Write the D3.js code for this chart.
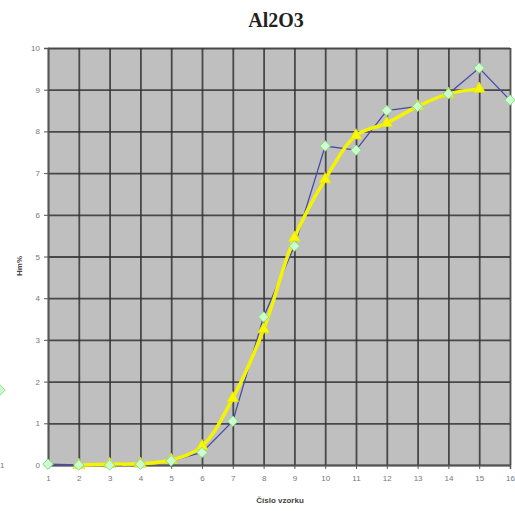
<!DOCTYPE html>
<html>
<head>
<meta charset="utf-8">
<script src="https://cdn.jsdelivr.net/npm/d3@7"></script>
<style>
  body { margin: 0; background: #fff; }
  svg { display: block; }
</style>
</head>
<body>
<svg id="drawing_region"></svg>
<script>
// sample numbers on the x axis
const samples = [1, 2, 3, 4, 5, 6, 7, 8, 9, 10, 11, 12, 13, 14, 15, 16];
// measured values (thin blue line, green diamonds)
const measured = [0.02, 0.0, 0.0, 0.02, 0.1, 0.3, 1.05, 3.55, 5.25, 7.65, 7.55, 8.5, 8.6, 8.9, 9.52, 8.75];
// fitted values (thick yellow line, triangles), samples 2..15
const fitSamples = [2, 3, 4, 5, 6, 7, 8, 9, 10, 11, 12, 13, 14, 15];
const fitted = [0.0, 0.02, 0.03, 0.12, 0.45, 1.6, 3.25, 5.45, 6.85, 7.9, 8.2, 8.6, 8.9, 9.02];
const yTicks = [0, 1, 2, 3, 4, 5, 6, 7, 8, 9, 10];

const config = {
    width: 515,
    height: 511,
    margin: { top: 48, right: 5, bottom: 46, left: 48 }
};

const svg = d3.select('#drawing_region')
    .attr('width', config.width)
    .attr('height', config.height);

const inner_width = config.width - config.margin.left - config.margin.right;
const inner_height = config.height - config.margin.top - config.margin.bottom;

const chart = svg.append('g')
    .attr('transform', `translate(${config.margin.left}, ${config.margin.top})`);

const xscale = d3.scaleLinear().domain([1, 16]).range([0, inner_width]);
const yscale = d3.scaleLinear().domain([0, 10]).range([inner_height, 0]);

// plot background
chart.append('rect')
    .attr('width', inner_width)
    .attr('height', inner_height)
    .attr('fill', '#bfbfbf');

// grid
chart.append('g')
    .call(d3.axisLeft(yscale).tickValues(yTicks).tickSize(-inner_width).tickFormat(''))
    .call(g => g.select('.domain').remove())
    .selectAll('line')
    .attr('stroke', '#333')
    .attr('stroke-width', 1.8)
    .attr('opacity', 0.85);

chart.append('g')
    .attr('transform', `translate(0, ${inner_height})`)
    .call(d3.axisBottom(xscale).tickValues(samples).tickSize(inner_height).tickFormat(''))
    .call(g => g.select('.domain').remove())
    .selectAll('line')
    .attr('transform', `translate(0, ${-inner_height})`)
    .attr('stroke', '#333')
    .attr('stroke-width', 1.8)
    .attr('opacity', 0.85);

// axes with labels
const xaxis = chart.append('g')
    .attr('transform', `translate(0, ${inner_height})`)
    .call(d3.axisBottom(xscale).tickValues(samples).tickSize(4).tickPadding(6).tickFormat(d3.format('d')));
const yaxis = chart.append('g')
    .call(d3.axisLeft(yscale).tickValues(yTicks).tickSize(4).tickPadding(4).tickFormat(d3.format('d')));

[xaxis, yaxis].forEach(ax => {
    ax.select('.domain').attr('stroke', '#555').attr('stroke-width', 1.5);
    ax.selectAll('.tick line').attr('stroke', '#555');
    ax.selectAll('text')
        .attr('fill', '#777')
        .style('font-family', 'Arial, Liberation Sans, sans-serif')
        .style('font-size', '8px');
});

const measuredData = samples.map((s, i) => ({ x: s, y: measured[i] }));
const fittedData = fitSamples.map((s, i) => ({ x: s, y: fitted[i] }));

// measured line
chart.append('path')
    .datum(measuredData)
    .attr('d', d3.line().x(d => xscale(d.x)).y(d => yscale(d.y)))
    .attr('fill', 'none')
    .attr('stroke', '#4a4aa8')
    .attr('stroke-width', 1.3);

// fitted line
chart.append('path')
    .datum(fittedData)
    .attr('d', d3.line().x(d => xscale(d.x)).y(d => yscale(d.y)).curve(d3.curveCatmullRom.alpha(0.5)))
    .attr('fill', 'none')
    .attr('stroke', '#f4f400')
    .attr('stroke-width', 3.5);

chart.selectAll('.tri')
    .data(fittedData)
    .enter()
    .append('path')
    .attr('class', 'tri')
    .attr('transform', d => `translate(${xscale(d.x)}, ${yscale(d.y)})`)
    .attr('d', d3.symbol(d3.symbolTriangle, 60))
    .attr('fill', '#f8f800')
    .attr('stroke', '#e0e020')
    .attr('stroke-width', 0.8);

const diamond = d3.symbol(d3.symbolDiamond2, 70);

chart.selectAll('.dia')
    .data(measuredData)
    .enter()
    .append('path')
    .attr('class', 'dia')
    .attr('transform', d => `translate(${xscale(d.x)}, ${yscale(d.y)})`)
    .attr('d', diamond)
    .attr('fill', '#ccffcc')
    .attr('stroke', '#88dd88')
    .attr('stroke-width', 1);

// title and axis titles
svg.append('text')
    .attr('x', 276)
    .attr('y', 27)
    .attr('text-anchor', 'middle')
    .style('font-family', 'Liberation Serif, Times New Roman, serif')
    .style('font-weight', 'bold')
    .style('font-size', '20px')
    .attr('fill', '#222')
    .text('Al2O3');

svg.append('text')
    .attr('x', 280)
    .attr('y', 503)
    .attr('text-anchor', 'middle')
    .style('font-family', 'Arial, Liberation Sans, sans-serif')
    .style('font-weight', 'bold')
    .style('font-size', '8px')
    .attr('fill', '#444')
    .text('Číslo vzorku');

svg.append('text')
    .attr('transform', 'translate(22, 266) rotate(-90)')
    .attr('text-anchor', 'middle')
    .style('font-family', 'Arial, Liberation Sans, sans-serif')
    .style('font-weight', 'bold')
    .style('font-size', '8px')
    .attr('fill', '#444')
    .text('Hm%');

// cut-off legend remains at the left edge
svg.append('path')
    .attr('transform', 'translate(0, 390)')
    .attr('d', diamond)
    .attr('fill', '#ccffcc')
    .attr('stroke', '#88dd88');
svg.append('text')
    .attr('x', 0)
    .attr('y', 468)
    .style('font-family', 'Arial, Liberation Sans, sans-serif')
    .style('font-size', '8px')
    .attr('fill', '#777')
    .text('1');
</script>
</body>
</html>
